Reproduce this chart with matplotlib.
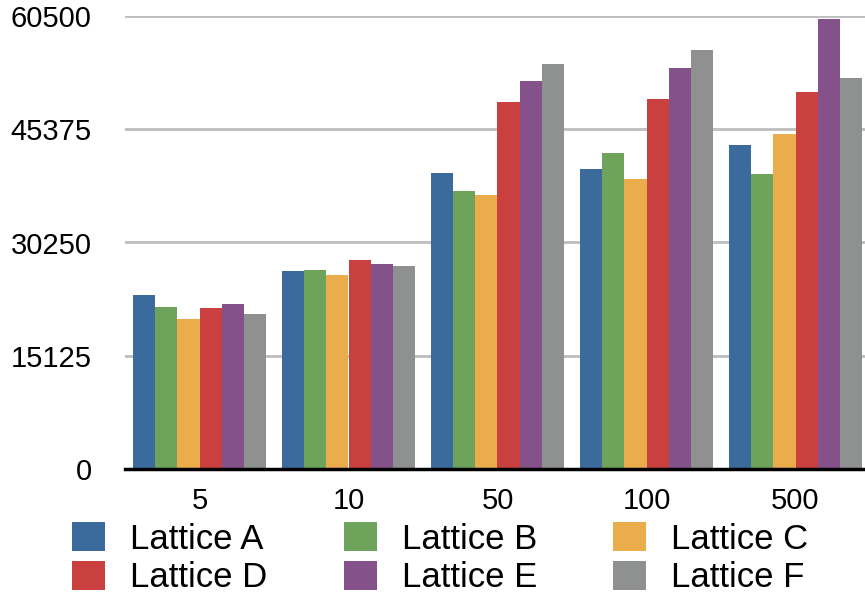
import numpy as np
import matplotlib
matplotlib.use("Agg")
import matplotlib.pyplot as plt
from matplotlib.patches import Patch

plt.rcParams['font.family'] = ['Liberation Sans', 'DejaVu Sans']

groups = ["5", "10", "50", "100", "500"]
series = ["Lattice A", "Lattice B", "Lattice C", "Lattice D", "Lattice E", "Lattice F"]
colors = ["#3b6b9c", "#6da35a", "#ebad4b", "#c9403e", "#84518b", "#8f9090"]

lattice_a = [23240, 26440, 39530, 40060, 43270]
lattice_b = [21630, 26580, 37130, 42200, 39400]
lattice_c = [20030, 25910, 36590, 38730, 44740]
lattice_d = [21500, 27910, 49010, 49410, 50350]
lattice_e = [22030, 27380, 51820, 53550, 60100]
lattice_f = [20700, 27110, 54090, 55960, 52220]
values = [lattice_a, lattice_b, lattice_c, lattice_d, lattice_e, lattice_f]

y_ticks = [0, 15125, 30250, 45375, 60500]

fig = plt.figure(figsize=(8.65, 5.95), dpi=100)
ax = fig.add_axes([125 / 865, 126 / 595, 745 / 865, 453 / 595])

x = np.arange(len(groups))
bar_w = 0.148
for i, (vals, col) in enumerate(zip(values, colors)):
    ax.bar(x + (i - 2.5) * bar_w, vals, bar_w, color=col, linewidth=0, zorder=3)

ax.set_xlim(-0.5, len(groups) - 0.5)
ax.set_ylim(0, 60500)
ax.set_yticks(y_ticks)
ax.set_yticklabels([str(t) for t in y_ticks], fontsize=21)
ax.set_xticks(x)
ax.set_xticklabels(groups, fontsize=21)
ax.tick_params(axis='y', length=0, pad=24)
ax.tick_params(axis='x', length=0, pad=13)

ax.grid(axis='y', color='#bdbdbd', linewidth=2, zorder=0)
for side in ['top', 'right', 'left']:
    ax.spines[side].set_visible(False)
ax.spines['bottom'].set_linewidth(2.5)
ax.spines['bottom'].set_color('black')
ax.spines['bottom'].set_zorder(4)

# legend fills column-wise, so reorder to read A B C / D E F across rows
order = [0, 3, 1, 4, 2, 5]
handles = [Patch(facecolor=colors[k], edgecolor='none') for k in order]
labels = [series[k] for k in order]
fig.legend(handles, labels, ncol=3, loc='upper left',
           bbox_to_anchor=(72 / 865, 1 - 522 / 595), frameon=False,
           fontsize=25, handlelength=0.95, handleheight=0.93,
           handletextpad=0.72, columnspacing=2.2, labelspacing=0.14,
           borderpad=0, borderaxespad=0)

fig.savefig("out.png", dpi=100)
